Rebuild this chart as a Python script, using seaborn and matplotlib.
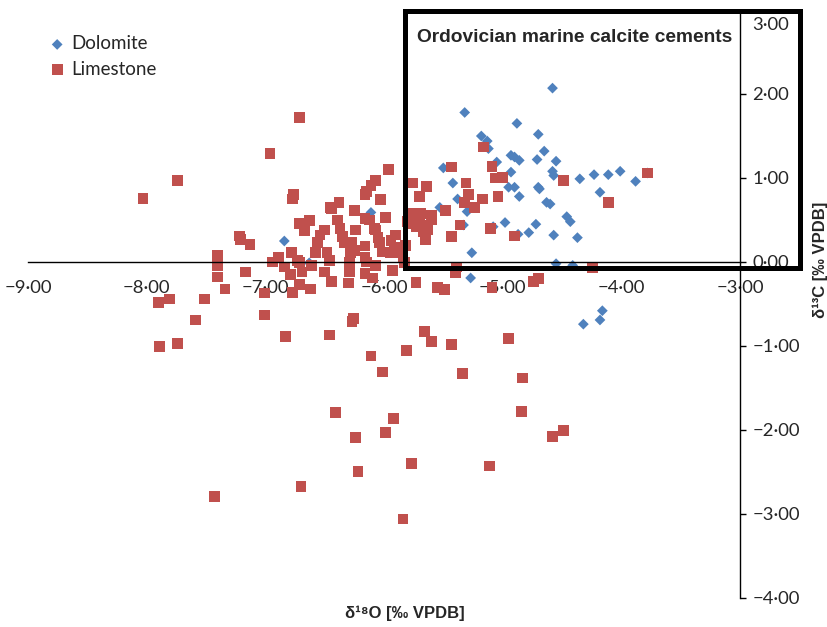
import matplotlib
matplotlib.use('Agg')
import matplotlib.pyplot as plt
import matplotlib.transforms as mtransforms
import seaborn as sns
import pandas as pd
from matplotlib.patches import Rectangle
from matplotlib.ticker import FuncFormatter, MultipleLocator

# dolomite samples (d18O, d13C)
dol_o = [-6.84, -6.63, -6.11, -4.58, -5.32, -4.88, -5.18, -5.13, -5.12, -4.70,
         -4.65, -4.93, -4.90, -4.86, -4.71, -4.55, -5.05, -5.50, -4.58, -4.57,
         -4.93, -4.23, -4.11, -4.01, -4.35, -3.88, -3.78, -5.42, -4.95, -4.90,
         -4.70, -4.69, -4.18, -4.86, -5.38, -5.53, -4.63, -4.60, -5.30, -4.46,
         -4.43, -4.98, -4.72, -5.08, -4.78, -4.87, -4.57, -4.37, -5.26, -4.55,
         -4.41, -5.27, -4.32, -4.18, -4.16, -5.33]
dol_c = [0.25, -0.01, 0.59, 2.07, 1.78, 1.65, 1.50, 1.44, 1.35, 1.52,
         1.32, 1.27, 1.25, 1.21, 1.22, 1.20, 1.19, 1.12, 1.08, 1.03,
         1.07, 1.04, 1.04, 1.08, 0.99, 0.96, 1.06, 0.94, 0.89, 0.89,
         0.89, 0.87, 0.83, 0.78, 0.75, 0.65, 0.71, 0.69, 0.60, 0.54,
         0.48, 0.47, 0.45, 0.42, 0.35, 0.33, 0.32, 0.29, 0.11, -0.02,
         -0.04, -0.19, -0.74, -0.69, -0.58, 0.44]

# limestone samples (d18O, d13C)
lim_o = [-8.03, -7.74, -6.96, -6.71, -6.76, -6.77, -7.22, -7.21, -7.13, -7.40,
         -7.40, -7.40, -7.17, -7.34, -7.51, -7.81, -7.90, -7.01, -7.01, -7.59,
         -6.83, -7.89, -7.74, -6.94, -6.89, -6.71, -6.63, -6.67, -6.78, -6.84,
         -6.79, -6.71, -6.69, -6.71, -6.77, -6.62, -6.58, -6.56, -6.50, -6.54,
         -6.45, -6.44, -6.38, -6.39, -6.37, -6.35, -6.33, -6.28, -6.25, -6.24,
         -6.48, -6.46, -6.50, -6.44, -6.29, -6.29, -6.30, -6.16, -6.16, -6.15,
         -6.16, -6.10, -6.07, -6.16, -6.12, -6.08, -6.05, -6.03, -5.99, -6.16,
         -6.15, -6.11, -6.07, -5.96, -6.01, -5.95, -5.94, -5.90, -5.93, -5.86,
         -5.83, -5.82, -5.76, -5.70, -5.78, -5.73, -5.73, -5.73, -6.27, -6.25,
         -6.04, -5.91, -6.73, -6.61, -6.07, -7.43, -6.70, -6.46, -6.41, -6.26,
         -6.27, -6.24, -6.22, -6.11, -6.01, -5.92, -5.99, -5.81, -5.77, -5.84,
         -5.66, -5.60, -5.43, -4.95, -5.34, -4.83, -4.84, -4.58, -4.49, -5.11,
         -5.55, -5.49, -5.39, -5.40, -5.09, -4.74, -4.70, -4.24, -5.16, -5.43,
         -5.09, -5.06, -5.00, -5.31, -5.64, -4.49, -3.78, -4.11, -5.29, -5.04,
         -5.32, -5.17, -5.24, -5.48, -5.78, -5.69, -5.60, -5.60, -5.70, -5.76,
         -5.63, -5.36, -5.67, -5.65, -5.43, -5.10, -4.90, -5.84, -5.80, -5.69]
lim_c = [0.76, 0.97, 1.29, 1.72, 0.80, 0.75, 0.31, 0.27, 0.21, 0.08,
         -0.04, -0.18, -0.12, -0.32, -0.44, -0.44, -0.48, -0.37, -0.63, -0.69,
         -0.89, -1.01, -0.97, 0.00, 0.06, 0.46, 0.49, 0.37, 0.11, -0.06,
         -0.15, -0.01, -0.12, -0.27, -0.36, -0.32, 0.11, 0.23, 0.38, 0.32,
         0.65, 0.63, 0.71, 0.50, 0.40, 0.30, 0.23, 0.11, 0.61, 0.38,
         0.11, 0.02, -0.12, -0.23, -0.01, -0.12, -0.25, 0.06, 0.19, 0.00,
         -0.14, -0.19, -0.04, 0.52, 0.50, 0.40, 0.29, 0.74, 0.53, 0.80,
         0.84, 0.91, 0.97, 1.10, 0.12, 0.11, 0.26, 0.32, -0.10, 0.11,
         -0.01, 0.20, 0.94, 0.78, 0.56, 0.50, 0.42, -0.24, 0.23, 0.14,
         0.23, 0.18, 0.02, -0.04, 0.38, -2.79, -2.67, -0.87, -1.79, -0.67,
         -0.71, -2.09, -2.49, -1.12, -1.31, -1.86, -2.03, -1.05, -2.40, -3.06,
         -0.83, -0.95, -0.98, -0.91, -1.33, -1.38, -1.78, -2.08, -2.01, -2.43,
         -0.30, -0.33, -0.06, -0.13, -0.30, -0.23, -0.20, -0.07, 1.37, 1.13,
         1.14, 1.00, 1.01, 0.94, 0.90, 0.97, 1.06, 0.71, 0.80, 0.78,
         0.71, 0.75, 0.65, 0.61, 0.58, 0.58, 0.56, 0.50, 0.50, 0.46,
         0.38, 0.44, 0.36, 0.27, 0.30, 0.40, 0.31, 0.06, 0.48, 0.44]

dol = pd.DataFrame({'d18O': dol_o, 'd13C': dol_c})
lim = pd.DataFrame({'d18O': lim_o, 'd13C': lim_c})

sns.set_style('white')
plt.rcParams['font.family'] = ['Lato', 'DejaVu Sans']

fig = plt.figure(figsize=(8.28, 6.27), dpi=100)
ax = fig.add_axes([28 / 828, 29 / 627, 712 / 828, 588 / 627])

sns.scatterplot(data=dol, x='d18O', y='d13C', marker='D', s=30, color='#4F81BD',
                edgecolor='none', label='Dolomite', ax=ax, clip_on=False)
sns.scatterplot(data=lim, x='d18O', y='d13C', marker='s', s=60, color='#C0504D',
                edgecolor='none', label='Limestone', ax=ax, clip_on=False)

ax.set_xlim(-9, -3)
ax.set_ylim(-4, 3)
ax.xaxis.set_major_locator(MultipleLocator(1))
ax.yaxis.set_major_locator(MultipleLocator(1))
fmt = FuncFormatter(lambda v, p: f'{v:.2f}'.replace('.', '·').replace('-', '−'))
ax.xaxis.set_major_formatter(fmt)
ax.yaxis.set_major_formatter(fmt)

ax.spines['left'].set_visible(False)
ax.spines['top'].set_visible(False)
ax.spines['bottom'].set_position(('data', 0))
for sp in ['bottom', 'right']:
    ax.spines[sp].set_color('black')
    ax.spines[sp].set_linewidth(1.0)
ax.yaxis.tick_right()
ax.tick_params(axis='both', direction='out', length=4, width=1, color='black',
               labelsize=13.3)
ax.tick_params(axis='x', pad=9)
ax.tick_params(axis='y', pad=5)
ax.set_xlabel('')
ax.set_ylabel('')

leg = ax.legend(loc='upper left', bbox_to_anchor=(0.012, 0.976),
                frameon=False, fontsize=13.5, handletextpad=0.25, labelspacing=0.45,
                borderaxespad=0.2, handlelength=1.0)

fig.text(405 / 828, 1 - 613 / 627, 'δ¹⁸O [‰ VPDB]', ha='center', va='center',
         fontsize=12, fontweight='bold', family=['Liberation Sans', 'DejaVu Sans'])
fig.text(820 / 828, 1 - 260 / 627, 'δ¹³C [‰ VPDB]', ha='center', va='center',
         rotation=90, fontsize=12, fontweight='bold',
         family=['Liberation Sans', 'DejaVu Sans'])

box = Rectangle((405 / 828, 1 - 268 / 627), 395 / 828, 257 / 627,
                transform=fig.transFigure, fill=False, edgecolor='black',
                linewidth=3.6, clip_on=False)
fig.patches.append(box)
fig.text(417 / 828, 1 - 37 / 627, 'Ordovician marine calcite cements',
         ha='left', va='center', fontsize=13.8, fontweight='bold',
         family=['Liberation Sans', 'DejaVu Sans'])

# top label sits below the end of the axis, as in the original
fig.canvas.draw()
shift = mtransforms.ScaledTranslation(0, -5 / 72, fig.dpi_scale_trans)
for lbl in ax.yaxis.get_ticklabels(which='major'):
    if lbl.get_text() == '3·00':
        lbl.set_verticalalignment('top')
        lbl.set_transform(lbl.get_transform() + shift)

fig.savefig('out.png', dpi=100)
